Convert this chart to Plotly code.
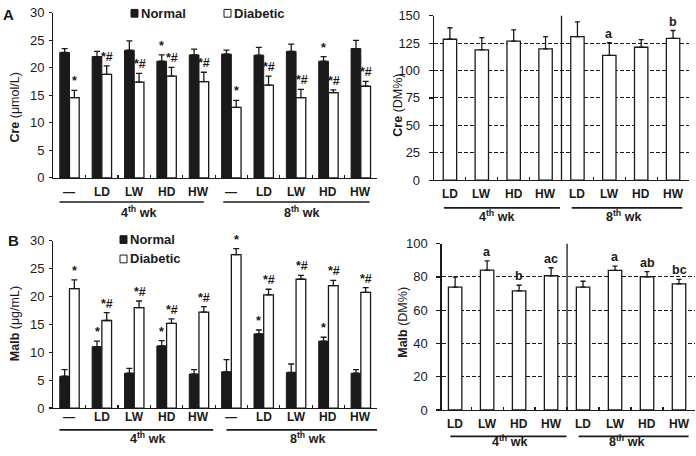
import plotly.graph_objects as go

W, H = 696, 456
FONT = "Liberation Sans, Arial, sans-serif"
INK = "#1a1a1a"

# ---------------- data ----------------
groups_left = ["—", "LD", "LW", "HD", "HW", "—", "LD", "LW", "HD", "HW"]
groups_right = ["LD", "LW", "HD", "HW", "LD", "LW", "HD", "HW"]
week_labels = ["4<sup>th</sup> wk", "8<sup>th</sup> wk"]

# Panel A left: Cre (umol/L)
cre_normal = [22.8, 22.05, 23.2, 21.2, 22.35, 22.5, 22.3, 23.0, 21.2, 23.5]
cre_normal_err = [0.7, 0.95, 1.7, 1.15, 1.05, 0.7, 1.4, 1.3, 0.85, 1.5]
cre_diab = [14.6, 18.8, 17.4, 18.5, 17.5, 12.8, 16.85, 14.6, 15.5, 16.65]
cre_diab_err = [1.3, 1.55, 1.6, 1.6, 1.7, 1.3, 1.65, 1.5, 0.5, 0.9]
cre_normal_sig = ["", "", "", "*", "", "", "", "", "*", ""]
cre_diab_sig = ["*", "*#", "*#", "*#", "*#", "*", "*#", "*#", "*#", "*#"]

# Panel A right: Cre (DM%)
cre_dm = [128.5, 118.8, 126.8, 119.7, 130.9, 113.8, 121.2, 129.4]
cre_dm_err = [10.5, 11.2, 10.2, 11.2, 13.5, 11.5, 7.0, 7.1]
cre_dm_sig = ["", "", "", "", "", "a", "", "b"]

# Panel B left: Malb (ug/mL)
malb_normal = [5.7, 11.0, 6.25, 11.15, 6.1, 6.5, 13.3, 6.4, 12.0, 6.25]
malb_normal_err = [1.2, 1.0, 0.85, 0.95, 0.8, 2.2, 0.7, 1.5, 0.7, 0.65]
malb_diab = [21.4, 15.7, 18.0, 15.2, 17.2, 27.5, 20.3, 23.1, 21.95, 20.75]
malb_diab_err = [1.6, 1.4, 1.2, 0.8, 1.0, 1.1, 1.0, 0.7, 0.95, 0.85]
malb_normal_sig = ["", "*", "", "*", "", "", "*", "", "*", ""]
malb_diab_sig = ["*", "*#", "*#", "*#", "*#", "*", "*#", "*#", "*#", "*#"]

# Panel B right: Malb (DM%)
malb_dm = [73.9, 84.1, 71.6, 80.7, 73.9, 83.9, 80.1, 75.8]
malb_dm_err = [6.0, 5.5, 3.4, 4.8, 3.5, 2.6, 3.1, 2.7]
malb_dm_sig = ["", "a", "b", "ac", "", "a", "ab", "bc"]

series_names = ["Normal", "Diabetic"]


def px(x):
    return x / W


def py(y):
    return 1 - y / H


fig = go.Figure()

err_style = dict(type="data", symmetric=False, color=INK, thickness=1.3)


def add_pair(xa, ya, normal, nerr, diab, derr):
    n = len(normal)
    xs = list(range(n))
    fig.add_trace(go.Bar(
        x=xs, y=normal, name=series_names[0], xaxis=xa, yaxis=ya,
        marker=dict(color=INK, line=dict(color=INK, width=1)),
        error_y=dict(err_style, array=nerr, arrayminus=[0] * n, width=3),
        showlegend=False))
    fig.add_trace(go.Bar(
        x=xs, y=diab, name=series_names[1], xaxis=xa, yaxis=ya,
        marker=dict(color="white", line=dict(color=INK, width=1.3)),
        error_y=dict(err_style, array=derr, arrayminus=[0] * n, width=3),
        showlegend=False))


def add_single(xa, ya, vals, errs):
    n = len(vals)
    fig.add_trace(go.Bar(
        x=list(range(n)), y=vals, xaxis=xa, yaxis=ya, width=0.42,
        marker=dict(color="white", line=dict(color=INK, width=1.3)),
        error_y=dict(err_style, array=errs, arrayminus=[0] * n, width=2.5),
        showlegend=False))


add_pair("x", "y", cre_normal, cre_normal_err, cre_diab, cre_diab_err)
add_single("x2", "y2", cre_dm, cre_dm_err)
add_pair("x3", "y3", malb_normal, malb_normal_err, malb_diab, malb_diab_err)
add_single("x4", "y4", malb_dm, malb_dm_err)

annotations = []
shapes = []


def sig_labels(xref, yref, vals, errs, sigs, offset):
    for i, (v, e, s) in enumerate(zip(vals, errs, sigs)):
        if s:
            annotations.append(dict(
                x=i + offset, y=v + e, xref=xref, yref=yref, text=s,
                showarrow=False, xanchor="center", yanchor="bottom", yshift=0,
                font=dict(family=FONT, size=12.5, color=INK, weight="bold")))


sig_labels("x", "y", cre_normal, cre_normal_err, cre_normal_sig, -0.15)
sig_labels("x", "y", cre_diab, cre_diab_err, cre_diab_sig, 0.17)
sig_labels("x2", "y2", cre_dm, cre_dm_err, cre_dm_sig, 0)
sig_labels("x3", "y3", malb_normal, malb_normal_err, malb_normal_sig, -0.15)
sig_labels("x3", "y3", malb_diab, malb_diab_err, malb_diab_sig, 0.17)
sig_labels("x4", "y4", malb_dm, malb_dm_err, malb_dm_sig, 0)


def cat_labels(xref, labels, ypix):
    for i, t in enumerate(labels):
        annotations.append(dict(
            x=i, y=py(ypix), xref=xref, yref="paper", text=t, showarrow=False,
            xanchor="center", yanchor="middle",
            font=dict(family=FONT, size=12, color=INK, weight="bold")))


cat_labels("x", groups_left, 191.5)
cat_labels("x2", groups_right, 193.3)
cat_labels("x3", groups_left, 424.3)
cat_labels("x4", groups_right, 431.7)


def week_lines(xref, spans, yline, ytext, xtexts):
    for (a, b), wl, xt in zip(spans, week_labels, xtexts):
        shapes.append(dict(type="line", xref=xref, yref="paper", x0=a, x1=b,
                           y0=py(yline), y1=py(yline),
                           line=dict(color=INK, width=1.6)))
        annotations.append(dict(
            x=px(xt), y=py(ytext), xref="paper", yref="paper", text=wl,
            showarrow=False, xanchor="center", yanchor="middle",
            font=dict(family=FONT, size=12.5, color=INK, weight="bold")))


week_lines("x", [(-0.31, 4.15), (4.75, 9.27)], 201.7, 211.5, [138, 301.5])
week_lines("x2", [(-0.19, 3.45), (3.82, 7.29)], 207.7, 216.0, [496.3, 623.7])
week_lines("x3", [(-0.31, 4.44), (4.85, 9.5)], 437.3, 445.5, [147.5, 307.5])
week_lines("x4", [(-0.15, 3.48), (3.86, 7.3)], 444.0, 449.0, [509, 626.7])

# separators in the DM% panels
for xr, yr in (("x2", "y2"), ("x4", "y4")):
    shapes.append(dict(type="line", xref=xr, yref=yr + " domain", x0=3.5, x1=3.5,
                       y0=0, y1=1, line=dict(color=INK, width=1.3)))

# y-axis titles
def ytitle(text, xpix, ypix):
    annotations.append(dict(
        x=px(xpix), y=py(ypix), xref="paper", yref="paper", text=text,
        textangle=-90, showarrow=False, xanchor="center", yanchor="middle",
        font=dict(family=FONT, size=12.5, color=INK)))


ytitle("<b>Cre</b> (μmol/L)", 15, 104)
ytitle("<b>Cre</b> (DM%)", 398.5, 101.5)
ytitle("<b>Malb</b> (μg/mL)", 15, 328)
ytitle("<b>Malb</b> (DM%)", 403.5, 326)

# panel letters
for t, xp, yp in (("A", 8, 7.5), ("B", 13.5, 241)):
    annotations.append(dict(x=px(xp), y=py(yp), xref="paper", yref="paper",
                            text=t, showarrow=False, xanchor="center",
                            yanchor="middle",
                            font=dict(family=FONT, size=15, color=INK,
                                      weight="bold")))

# legends (swatch + text)
def legend_item(name, filled, x0, ycen, xtext):
    shapes.append(dict(type="rect", xref="paper", yref="paper",
                       x0=px(x0), x1=px(x0 + 7), y0=py(ycen + 4), y1=py(ycen - 4),
                       fillcolor=INK if filled else "white",
                       line=dict(color=INK, width=1)))
    annotations.append(dict(x=px(xtext), y=py(ycen), xref="paper", yref="paper",
                            text=name, showarrow=False, xanchor="left",
                            yanchor="middle",
                            font=dict(family=FONT, size=13, color=INK,
                                      weight="bold")))


legend_item(series_names[0], True, 131, 6.5, 138.5)
legend_item(series_names[1], False, 224, 6.5, 231.5)
legend_item(series_names[0], True, 120, 240.5, 127.5)
legend_item(series_names[1], False, 120, 260.5, 127.5)


def xaxis(domain, rng, n, anchor):
    return dict(domain=domain, range=rng, anchor=anchor, tickmode="array",
                tickvals=[i + 0.5 for i in range(n)], ticks="inside", ticklen=3,
                tickwidth=1.2, tickcolor=INK, showticklabels=False,
                showline=True, linecolor=INK, linewidth=1.3, showgrid=False,
                zeroline=False, fixedrange=True)


def yaxis(domain, rng, dtick, grid, ticklen, standoff, anchor):
    d = dict(domain=domain, range=rng, anchor=anchor, tickmode="linear", tick0=0,
             dtick=dtick, ticks="outside", ticklen=ticklen, tickwidth=1.2,
             tickcolor=INK, tickfont=dict(family=FONT, size=13, color=INK),
             ticklabelstandoff=standoff,
             showline=True, linecolor=INK, linewidth=1.3, zeroline=False,
             fixedrange=True, showgrid=grid)
    if grid:
        d.update(gridcolor=INK, gridwidth=1, griddash="4px,2px")
    return d


fig.update_layout(
    width=W, height=H, margin=dict(l=0, r=0, t=0, b=0),
    paper_bgcolor="white", plot_bgcolor="white",
    barmode="group", bargap=0.4, bargroupgap=0,
    font=dict(family=FONT, color=INK),
    xaxis=xaxis([px(53.3), px(377)], [-0.5, 9.5], 10, "y"),
    yaxis=yaxis([py(176.7), py(6)], [0, 30], 5, False, 3, 2, "x"),
    xaxis2=xaxis([px(434), px(689)], [-0.5, 7.5], 8, "y2"),
    yaxis2=yaxis([py(179), py(9)], [0, 150], 25, True, 4, 6, "x2"),
    xaxis3=xaxis([px(53.3), px(377)], [-0.5, 9.5], 10, "y3"),
    yaxis3=yaxis([py(414.7), py(241.7)], [0, 30], 5, False, 3, 2, "x3"),
    xaxis4=xaxis([px(441.7), px(695)], [-0.42, 7.5], 8, "y4"),
    yaxis4=yaxis([py(416.7), py(244.7)], [0, 100], 20, True, 4, 6, "x4"),
    annotations=annotations, shapes=shapes,
)

fig.write_html(
    "out.html",
    config={"displayModeBar": False, "staticPlot": True},
    post_script="document.body.style.margin='0';document.body.style.overflow='hidden';",
)
